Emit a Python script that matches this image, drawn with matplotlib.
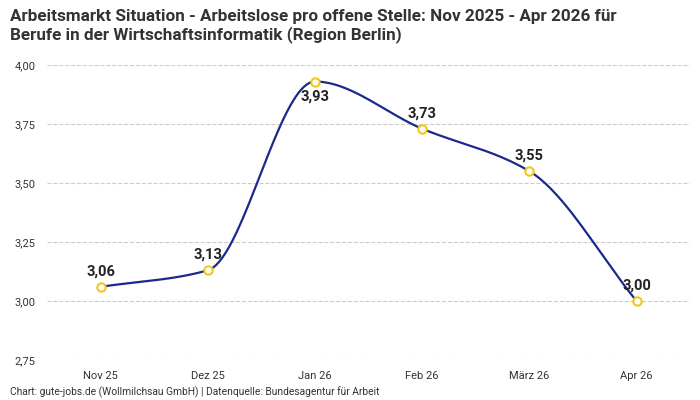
import numpy as np
import matplotlib
matplotlib.use('Agg')
from matplotlib import pyplot as plt

plt.rcParams['font.family'] = ['Roboto', 'DejaVu Sans']

months = ["Nov 25", "Dez 25", "Jan 26", "Feb 26", "März 26", "Apr 26"]
values = [3.06, 3.13, 3.93, 3.73, 3.55, 3.00]
labels = ["3,06", "3,13", "3,93", "3,73", "3,55", "3,00"]
label_below = [False, False, True, False, False, False]


def monotone(x, y, n=40):
    # Fritsch-Carlson monotone cubic, like d3 curveMonotoneX
    x = np.asarray(x, float); y = np.asarray(y, float)
    h = np.diff(x); d = np.diff(y) / h
    m = np.zeros_like(y)
    m[0], m[-1] = d[0], d[-1]
    for i in range(1, len(y) - 1):
        if d[i-1] * d[i] <= 0:
            m[i] = 0
        else:
            m[i] = 3 * (h[i-1] + h[i]) / ((2*h[i] + h[i-1]) / d[i-1] + (h[i] + 2*h[i-1]) / d[i])
    xs, ys = [], []
    for i in range(len(h)):
        t = np.linspace(0, 1, n)
        h00 = 2*t**3 - 3*t**2 + 1; h10 = t**3 - 2*t**2 + t
        h01 = -2*t**3 + 3*t**2; h11 = t**3 - t**2
        xs.append(x[i] + t*h[i])
        ys.append(h00*y[i] + h10*h[i]*m[i] + h01*y[i+1] + h11*h[i]*m[i+1])
    return np.concatenate(xs), np.concatenate(ys)


fig = plt.figure(figsize=(7, 4), dpi=100)
ax = fig.add_axes([0.067, 0.1, 0.919, 0.7375])

x = np.arange(len(values))
sx, sy = monotone(x, values)
ax.plot(sx, sy, color='#1a2a8c', linewidth=1.6, zorder=2)
ax.scatter(x, values, s=36, facecolor='white', edgecolor='#f5c518', linewidth=1.5, zorder=3)
for xi, v, lab, below in zip(x, values, labels, label_below):
    off = -16 if below else 6
    ax.annotate(lab, (xi, v), xytext=(0, off), textcoords='offset points',
                ha='center', va='bottom', fontsize=10.5, fontweight='bold', color='#222222')

ax.set_xlim(-0.5, 5.5)
ax.set_ylim(2.75, 4.0)
ax.set_yticks([2.75, 3.0, 3.25, 3.5, 3.75, 4.0])
ax.set_yticklabels(["2,75", "3,00", "3,25", "3,50", "3,75", "4,00"])
ax.set_xticks(x)
ax.set_xticklabels(months)
ax.tick_params(length=0, labelsize=8, colors='#333333', pad=8)
ax.grid(axis='y', linestyle='--', color='#cccccc', linewidth=0.8)
ax.set_axisbelow(True)
for s in ax.spines.values():
    s.set_visible(False)

fig.text(0.014, 0.978, "Arbeitsmarkt Situation - Arbeitslose pro offene Stelle: Nov 2025 - Apr 2026 für\nBerufe in der Wirtschaftsinformatik (Region Berlin)",
         ha='left', va='top', fontsize=12.3, fontweight='bold', color='#333333', linespacing=1.15)
fig.text(0.014, 0.005, "Chart: gute-jobs.de (Wollmilchsau GmbH) | Datenquelle: Bundesagentur für Arbeit",
         ha='left', va='bottom', fontsize=7.4, color='#333333')

plt.savefig('out.png')
